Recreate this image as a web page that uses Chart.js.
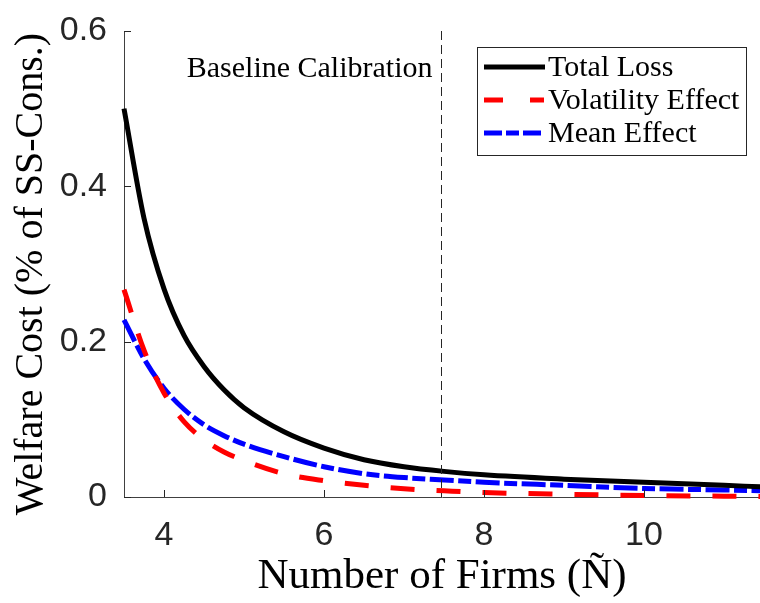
<!DOCTYPE html>
<html>
<head>
<meta charset="utf-8">
<script src="https://cdn.jsdelivr.net/npm/chart.js@4/dist/chart.umd.min.js"></script>
<style>
  html, body { margin: 0; padding: 0; background: #fff; }
  #wrap { width: 760px; height: 603px; }
</style>
</head>
<body>
<div id="wrap"><canvas id="welfareChart" width="760" height="603"></canvas></div>
<script>
const firms = [3.5, 3.75, 4, 4.25, 4.5, 4.75, 5, 5.5, 6, 6.5, 7, 7.5, 8, 9, 10, 11, 11.5];
const totalLoss = [0.500, 0.359, 0.268, 0.208, 0.168, 0.138, 0.115, 0.084, 0.063, 0.048, 0.039, 0.033, 0.0285, 0.023, 0.019, 0.015, 0.013];
const volatilityEffect = [0.267, 0.189, 0.134, 0.097, 0.074, 0.058, 0.047, 0.030, 0.021, 0.015, 0.0105, 0.008, 0.0058, 0.0035, 0.002, 0.001, 0.0005];
const meanEffect = [0.228, 0.178, 0.140, 0.113, 0.093, 0.079, 0.068, 0.052, 0.039, 0.030, 0.025, 0.022, 0.019, 0.015, 0.011, 0.009, 0.008];
const xTicks = [4, 6, 8, 10];
const yTicks = [0, 0.2, 0.4, 0.6];
const baselineN = 7.46;

const serif = '"Liberation Serif", "Times New Roman", serif';
const sans = '"Liberation Sans", Arial, sans-serif';
const axisColor = '#262626';

function pts(ys) {
  return firms.map((x, i) => ({x: x, y: ys[i]}));
}

// inward ticks, dashed baseline marker, y title, legend box
const extras = {
  id: 'extras',
  afterDraw(chart) {
    const ctx = chart.ctx;
    const xs = chart.scales.x, ys = chart.scales.y;
    const area = chart.chartArea;
    ctx.save();
    ctx.strokeStyle = axisColor;
    ctx.lineWidth = 1;
    xTicks.forEach(v => {
      const px = Math.round(xs.getPixelForValue(v)) + 0.5;
      ctx.beginPath();
      ctx.moveTo(px, area.bottom);
      ctx.lineTo(px, area.bottom - 7);
      ctx.stroke();
    });
    yTicks.forEach(v => {
      const py = Math.round(ys.getPixelForValue(v)) + 0.5;
      ctx.beginPath();
      ctx.moveTo(area.left, py);
      ctx.lineTo(area.left + 7, py);
      ctx.stroke();
    });

    // baseline calibration line
    const bx = Math.round(xs.getPixelForValue(baselineN)) + 0.5;
    ctx.setLineDash([9, 5]);
    ctx.beginPath();
    ctx.moveTo(bx, area.top);
    ctx.lineTo(bx, area.bottom);
    ctx.stroke();
    ctx.setLineDash([]);
    ctx.fillStyle = '#000';
    ctx.font = '30px ' + serif;
    ctx.textAlign = 'right';
    ctx.textBaseline = 'alphabetic';
    ctx.fillText('Baseline Calibration', bx - 9, 77);

    // y axis title
    ctx.save();
    ctx.translate(31, 274);
    ctx.rotate(-Math.PI / 2);
    ctx.font = '40px ' + serif;
    ctx.textAlign = 'center';
    ctx.textBaseline = 'middle';
    ctx.fillText('Welfare Cost (% of SS-Cons.)', 0, 0);
    ctx.restore();

    // legend
    const lx = 477.5, ly = 47.5, lw = 269, lh = 108;
    ctx.fillStyle = '#fff';
    ctx.fillRect(lx, ly, lw, lh);
    ctx.strokeStyle = '#262626';
    ctx.lineWidth = 1;
    ctx.strokeRect(lx, ly, lw, lh);
    ctx.font = '30px ' + serif;
    ctx.textAlign = 'left';
    ctx.textBaseline = 'middle';
    chart.data.datasets.forEach((ds, i) => {
      const cy = 67 + i * 33;
      ctx.strokeStyle = ds.borderColor;
      ctx.lineWidth = ds.borderWidth;
      ctx.setLineDash(ds.legendDash);
      ctx.beginPath();
      ctx.moveTo(484, cy);
      ctx.lineTo(545, cy);
      ctx.stroke();
      ctx.setLineDash([]);
      ctx.fillStyle = '#000';
      ctx.fillText(ds.label, 548, cy + 1);
    });
    ctx.restore();
  }
};

new Chart(document.getElementById('welfareChart'), {
  type: 'line',
  data: {
    datasets: [
      {
        label: 'Total Loss',
        data: pts(totalLoss),
        borderColor: '#000000',
        borderWidth: 5,
        legendDash: [],
        pointRadius: 0,
        cubicInterpolationMode: 'monotone',
        clip: false
      },
      {
        label: 'Volatility Effect',
        data: pts(volatilityEffect),
        borderColor: '#ff0000',
        borderWidth: 5,
        borderDash: [24, 22],
        legendDash: [19, 27, 14],
        pointRadius: 0,
        cubicInterpolationMode: 'monotone',
        clip: false
      },
      {
        label: 'Mean Effect',
        data: pts(meanEffect),
        borderColor: '#0000ff',
        borderWidth: 5,
        borderDash: [24, 4.5, 13, 4.5],
        legendDash: [18, 4, 13, 4],
        pointRadius: 0,
        cubicInterpolationMode: 'monotone',
        clip: false
      }
    ]
  },
  options: {
    responsive: false,
    animation: false,
    layout: { padding: { top: 31, right: 0, left: 0, bottom: 0 } },
    plugins: {
      legend: { display: false },
      tooltip: { enabled: false }
    },
    scales: {
      x: {
        type: 'linear',
        min: 3.5,
        max: 11.45,
        afterFit: s => { s.height = 106; s.paddingLeft = 0; s.paddingRight = 0; },
        afterBuildTicks: s => { s.ticks = xTicks.map(v => ({value: v})); },
        grid: { display: false, drawTicks: false },
        border: { display: true, color: '#404040', width: 1 },
        ticks: {
          color: axisColor,
          font: { family: sans, size: 34 },
          padding: 18,
          maxRotation: 0,
          callback: v => String(v)
        },
        title: {
          display: true,
          text: 'Number of Firms (Ñ)',
          color: '#000',
          font: { family: serif, size: 43 },
          padding: { top: 0, bottom: 0 }
        }
      },
      y: {
        min: 0,
        max: 0.6,
        afterFit: s => { s.width = 124; s.paddingTop = 0; s.paddingBottom = 0; },
        afterBuildTicks: s => { s.ticks = yTicks.map(v => ({value: v})); },
        grid: { display: false, drawTicks: false },
        border: { display: true, color: '#404040', width: 1 },
        ticks: {
          color: axisColor,
          font: { family: sans, size: 34 },
          padding: 17,
          callback: v => v === 0 ? '0' : v.toFixed(1)
        }
      }
    }
  },
  plugins: [extras]
});
</script>
</body>
</html>
